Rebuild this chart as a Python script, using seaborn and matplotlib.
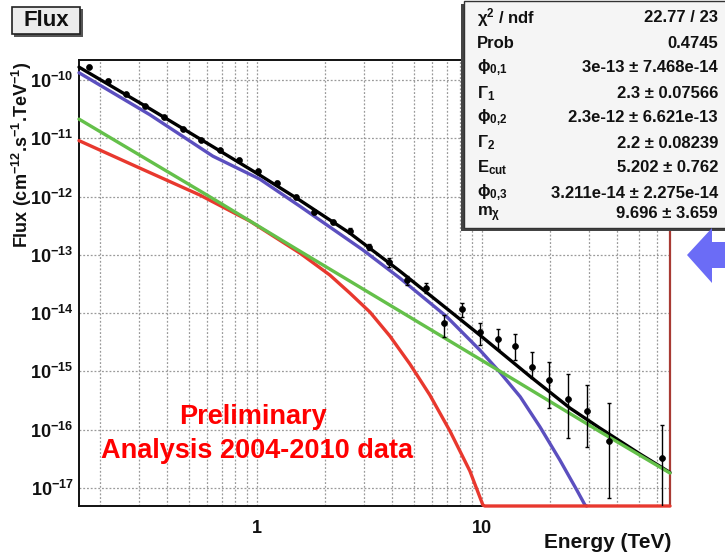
import numpy as np
import pandas as pd
import matplotlib
matplotlib.use("Agg")
import matplotlib.pyplot as plt
import seaborn as sns
from matplotlib.ticker import FixedLocator, FixedFormatter, NullFormatter
from matplotlib.patches import Rectangle, Polygon

# ---------------- data ----------------
energy = [0.179, 0.217, 0.262, 0.318, 0.386, 0.469, 0.564, 0.686, 0.832, 1.01,
          1.23, 1.49, 1.79, 2.18, 2.59, 3.15, 3.86, 4.65, 5.64, 6.78,
          8.15, 9.79, 11.8, 14.0, 16.7, 19.9, 24.1, 29.3, 36.6, 63.1]
flux = [1.69e-10, 9.73e-11, 5.82e-11, 3.56e-11, 2.30e-11, 1.43e-11, 9.27e-12, 6.25e-12, 4.30e-12, 2.73e-12,
        1.73e-12, 9.77e-13, 5.47e-13, 3.68e-13, 2.60e-13, 1.37e-13, 7.50e-14, 3.68e-14, 2.69e-14, 6.73e-15,
        1.17e-14, 4.78e-15, 3.58e-15, 2.75e-15, 1.19e-15, 7.23e-16, 3.35e-16, 2.08e-16, 6.45e-17, 3.26e-17]
flux_lo = [1.58e-10, 9.30e-11, 5.60e-11, 3.43e-11, 2.21e-11, 1.37e-11, 8.85e-12, 5.95e-12, 4.08e-12, 2.58e-12,
           1.62e-12, 9.10e-13, 5.05e-13, 3.36e-13, 2.35e-13, 1.20e-13, 6.15e-14, 3.02e-14, 2.20e-14, 3.92e-15,
           8.53e-15, 2.82e-15, 2.41e-15, 1.56e-15, 7.67e-16, 2.35e-16, 7.18e-17, 5.03e-17, 6.71e-18, 3.0e-18]
flux_hi = [1.80e-10, 1.02e-10, 6.05e-11, 3.69e-11, 2.39e-11, 1.49e-11, 9.70e-12, 6.55e-12, 4.52e-12, 2.88e-12,
           1.84e-12, 1.05e-12, 5.90e-13, 4.00e-13, 2.86e-13, 1.55e-13, 8.77e-14, 4.32e-14, 3.27e-14, 9.24e-15,
           1.49e-14, 6.73e-15, 5.32e-15, 4.36e-15, 2.14e-15, 1.44e-15, 8.99e-16, 5.82e-16, 2.86e-16, 1.20e-16]

# total fit (black)
total_E = [0.162, 0.246, 0.334, 0.637, 1.03, 1.55, 2.59, 4.32, 7.21, 9.79, 16.3, 24.6, 33.4, 50.4, 68.5]
total_F = [1.66e-10, 6.43e-11, 3.22e-11, 7.18e-12, 2.33e-12, 8.67e-13, 2.35e-13, 5.25e-14, 1.08e-14,
           4.19e-15, 8.30e-16, 2.35e-16, 1.065e-16, 3.82e-17, 1.84e-17]
# power law component (green)
pl_E = [0.162, 0.600, 1.55, 4.32, 12.0, 33.4, 68.5]
pl_F = [2.13e-11, 1.06e-12, 1.16e-13, 1.08e-14, 1.01e-15, 9.27e-17, 1.80e-17]
# cut-off power law component (blue)
cut_E = [0.162, 0.334, 0.637, 1.03, 1.55, 2.96, 4.32, 6.98, 9.79, 12.0, 14.8, 18.1, 22.2, 26.4, 28.7, 29.2]
cut_F = [1.33e-10, 2.54e-11, 4.93e-12, 1.99e-12, 6.84e-13, 1.21e-13, 3.98e-14, 8.65e-15, 2.32e-15,
         9.73e-16, 3.66e-16, 1.12e-16, 3.01e-17, 9.20e-18, 5.09e-18, 4.9e-18]
# dark matter component (red)
dm_E = [0.162, 0.302, 0.558, 0.931, 1.553, 2.11, 2.59, 3.18, 3.90, 4.79, 5.87, 7.21, 8.84, 10.1, 10.3, 68.5]
dm_F = [9.10e-12, 3.07e-12, 1.06e-12, 3.78e-13, 1.07e-13, 4.49e-14, 2.20e-14, 1.04e-14, 4.03e-15,
        1.33e-15, 3.92e-16, 9.46e-17, 1.95e-17, 5.09e-18, 4.9e-18, 4.9e-18]

x_major = [1, 10]
x_major_labels = ["1", "10"]
x_minor = [0.2, 0.3, 0.4, 0.5, 0.6, 0.7, 0.8, 0.9, 2, 3, 4, 5, 6, 7, 8, 9, 20, 30, 40, 50, 60]
y_major = [1e-17, 1e-16, 1e-15, 1e-14, 1e-13, 1e-12, 1e-11, 1e-10]
y_major_labels = [r"$\mathbf{10^{-17}}$", r"$\mathbf{10^{-16}}$", r"$\mathbf{10^{-15}}$", r"$\mathbf{10^{-14}}$",
                  r"$\mathbf{10^{-13}}$", r"$\mathbf{10^{-12}}$", r"$\mathbf{10^{-11}}$", r"$\mathbf{10^{-10}}$"]

stat_labels = [r"$\chi^{2}$ / ndf", "Prob", r"$\phi_{0{,}1}$", r"$\Gamma_{1}$", r"$\phi_{0{,}2}$",
               r"$\Gamma_{2}$", r"E$_{cut}$", r"$\phi_{0{,}3}$", r"m$_{\chi}$"]
stat_values = ["22.77 / 23", "0.4745", "3e-13 ± 7.468e-14", "2.3 ± 0.07566", "2.3e-12 ± 6.621e-13",
               "2.2 ± 0.08239", "5.202 ± 0.762", "3.211e-14 ± 2.275e-14", "9.696 ± 3.659"]

# ---------------- style ----------------
sns.set_style("white")
plt.rcParams['font.family'] = ['Liberation Sans', 'DejaVu Sans']
plt.rcParams['font.weight'] = 'bold'
plt.rcParams['mathtext.fontset'] = 'custom'
plt.rcParams['mathtext.rm'] = 'Liberation Sans:bold'
plt.rcParams['mathtext.bf'] = 'Liberation Sans:bold'
plt.rcParams['mathtext.it'] = 'Liberation Sans:bold:italic'
plt.rcParams['mathtext.default'] = 'bf'

W, H = 725, 553
fig = plt.figure(figsize=(W / 100, H / 100), dpi=100)
fig.patch.set_facecolor('white')

L, R, T, B = 79, 670, 60, 506
ax = fig.add_axes([L / W, 1 - B / H, (R - L) / W, (B - T) / H])
ax.set_xscale('log')
ax.set_yscale('log')
ax.set_xlim(0.162, 68.5)
ax.set_ylim(4.9e-18, 2.2e-10)

# ticks & grid
ax.xaxis.set_major_locator(FixedLocator(x_major))
ax.xaxis.set_major_formatter(FixedFormatter(x_major_labels))
ax.xaxis.set_minor_locator(FixedLocator(x_minor))
ax.xaxis.set_minor_formatter(NullFormatter())
ax.yaxis.set_major_locator(FixedLocator(y_major))
ax.yaxis.set_major_formatter(FixedFormatter(y_major_labels))
ax.yaxis.set_minor_locator(FixedLocator([m * d for d in [1e-18, 1e-17, 1e-16, 1e-15, 1e-14, 1e-13, 1e-12, 1e-11, 1e-10]
                                         for m in range(2, 10)]))
ax.yaxis.set_minor_formatter(NullFormatter())
ax.xaxis.grid(True, which='both', ls=(0, (1.5, 1.5)), color='#9a9a9a', lw=0.9)
ax.yaxis.grid(True, which='major', ls=(0, (1.5, 1.5)), color='#9a9a9a', lw=0.9)
ax.set_axisbelow(True)

ax.tick_params(axis='both', which='major', direction='in', length=12, width=1.3, top=False, right=False,
               colors='#111111')
ax.tick_params(axis='both', which='minor', direction='in', length=6, width=1.0, top=False, right=False,
               colors='#111111')
ax.tick_params(axis='x', which='major', pad=10, labelsize=13)
ax.tick_params(axis='y', which='major', pad=4, labelsize=13)
for s in ['left', 'bottom', 'top']:
    ax.spines[s].set_color('#111111')
    ax.spines[s].set_linewidth(1.4)
ax.spines['right'].set_color('#a83a33')
ax.spines['right'].set_linewidth(1.6)

# curves
lw = 2.4
sns.lineplot(x=total_E, y=total_F, ax=ax, color='black', lw=lw, sort=False, estimator=None, zorder=3)
sns.lineplot(x=cut_E, y=cut_F, ax=ax, color='#5b4fbf', lw=lw, sort=False, estimator=None, zorder=3)
sns.lineplot(x=dm_E, y=dm_F, ax=ax, color='#e8382e', lw=lw, sort=False, estimator=None, zorder=4)
sns.lineplot(x=pl_E, y=pl_F, ax=ax, color='#64c04a', lw=lw, sort=False, estimator=None, zorder=4)
for ln in ax.lines:
    ln.set_clip_on(False)

# data points with errors
yerr = np.array([np.array(flux) - np.array(flux_lo), np.array(flux_hi) - np.array(flux)])
ax.errorbar(energy, flux, yerr=yerr, fmt='none', ecolor='black', elinewidth=1.0, capsize=1.5, zorder=5)
sns.scatterplot(x=energy, y=flux, ax=ax, color='black', s=18, edgecolor='black', linewidth=0.5, zorder=6)
ax.set_xlabel('')
ax.set_ylabel('')

# ---------------- overlay in pixel coordinates ----------------
ov = fig.add_axes([0, 0, 1, 1], zorder=10)
ov.set_xlim(0, W)
ov.set_ylim(H, 0)
ov.axis('off')
ov.patch.set_alpha(0)

# Title box
ov.add_patch(Rectangle((14, 9), 69, 28, facecolor='#555555', edgecolor='none'))
ov.add_patch(Rectangle((12, 7), 68, 27, facecolor='#ececec', edgecolor='#222222', lw=1.2))
ov.text(46, 21, 'Flux', ha='center', va='center', fontsize=16, fontweight='bold', color='#111111')

# axis titles
ov.text(22, 62, r'Flux (cm$^{-12}$.s$^{-1}$.TeV$^{-1}$)', rotation=90, ha='center', va='top',
        fontsize=13, fontweight='bold', color='#111111')
ov.text(671, 542, 'Energy (TeV)', ha='right', va='center', fontsize=15, fontweight='bold', color='#111111')

# Preliminary text
ov.text(253, 417, 'Preliminary', ha='center', va='center', fontsize=19.5, fontweight='bold', color='#ff0000')
ov.text(257, 451, 'Analysis 2004-2010 data', ha='center', va='center', fontsize=19.5, fontweight='bold',
        color='#ff0000')

# stats box
ov.add_patch(Rectangle((461, 4), 280, 227, facecolor='#444444', edgecolor='none'))
ov.add_patch(Rectangle((464, 1), 280, 227, facecolor='#f5f5f5', edgecolor='#333333', lw=1.0))
rows_y = [18, 44, 68, 94, 118, 143, 168, 193, 214]
for yy, lab, val in zip(rows_y, stat_labels, stat_values):
    ov.text(477, yy, lab, ha='left', va='center', fontsize=12, fontweight='bold', color='#111111')
    ov.text(718, yy, val, ha='right', va='center', fontsize=12, fontweight='bold', color='#111111')

# blue arrow
ov.add_patch(Polygon([(687, 255), (712, 228), (712, 242), (730, 242), (730, 268), (712, 268), (712, 283)],
                     closed=True, facecolor='#6b6cf6', edgecolor='none'))

fig.savefig('out.png', dpi=100, facecolor='white')
